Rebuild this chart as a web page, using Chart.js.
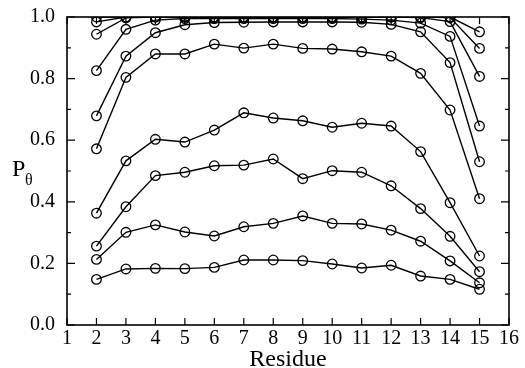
<!DOCTYPE html>
<html>
<head>
<meta charset="utf-8">
<script src="https://cdn.jsdelivr.net/npm/chart.js@4.4.1/dist/chart.umd.min.js"></script>
<style>
  html, body { margin: 0; padding: 0; background: #fff; }
  #wrap { width: 525px; height: 368px; position: relative; }
</style>
</head>
<body>
<div id="wrap"><canvas id="chart"></canvas></div>
<script>
const residues = [2, 3, 4, 5, 6, 7, 8, 9, 10, 11, 12, 13, 14, 15];

const series1 = [0.148, 0.182, 0.184, 0.183, 0.187, 0.211, 0.211, 0.209, 0.198, 0.185, 0.194, 0.159, 0.148, 0.116];
const series2 = [0.213, 0.301, 0.325, 0.302, 0.289, 0.319, 0.330, 0.354, 0.330, 0.328, 0.308, 0.272, 0.208, 0.137];
const series3 = [0.256, 0.384, 0.485, 0.496, 0.517, 0.519, 0.539, 0.475, 0.501, 0.496, 0.452, 0.378, 0.288, 0.173];
const series4 = [0.363, 0.533, 0.603, 0.594, 0.633, 0.689, 0.672, 0.663, 0.642, 0.655, 0.646, 0.563, 0.397, 0.224];
const series5 = [0.572, 0.804, 0.880, 0.880, 0.912, 0.899, 0.912, 0.898, 0.896, 0.887, 0.873, 0.817, 0.698, 0.410];
const series6 = [0.679, 0.873, 0.949, 0.975, 0.982, 0.983, 0.984, 0.984, 0.984, 0.983, 0.976, 0.952, 0.852, 0.530];
const series7 = [0.826, 0.960, 0.990, 0.995, 0.995, 0.995, 0.995, 0.995, 0.995, 0.993, 0.990, 0.980, 0.937, 0.646];
const series8 = [0.944, 0.997, 1.000, 1.000, 1.000, 1.000, 1.000, 1.000, 1.000, 1.000, 1.000, 0.998, 0.985, 0.807];
const series9 = [0.984, 1.000, 1.000, 1.000, 1.000, 1.000, 1.000, 1.000, 1.000, 1.000, 1.000, 1.000, 0.998, 0.898];
const series10 = [1.000, 1.000, 1.000, 1.000, 1.000, 1.000, 1.000, 1.000, 1.000, 1.000, 1.000, 1.000, 1.000, 0.952];

const allSeries = [series1, series2, series3, series4, series5, series6, series7, series8, series9, series10];

const serif = '"Liberation Serif", "DejaVu Serif", serif';

// frame, inward ticks on all four sides, and the P_theta label
const framePlugin = {
  id: 'frame',
  afterDraw(chart) {
    const { ctx, chartArea: a, scales } = chart;
    ctx.save();
    ctx.strokeStyle = '#000';
    ctx.lineWidth = 1.6;
    ctx.strokeRect(a.left, a.top, a.right - a.left, a.bottom - a.top);

    ctx.lineWidth = 1.2;
    ctx.beginPath();
    for (let v = 1; v <= 16; v++) {
      const px = scales.x.getPixelForValue(v);
      ctx.moveTo(px, a.bottom); ctx.lineTo(px, a.bottom - 7);
      ctx.moveTo(px, a.top); ctx.lineTo(px, a.top + 7);
    }
    for (let i = 0; i <= 10; i++) {
      const py = scales.y.getPixelForValue(i / 10);
      const len = i % 2 === 0 ? 8 : 4;
      ctx.moveTo(a.left, py); ctx.lineTo(a.left + len, py);
      ctx.moveTo(a.right, py); ctx.lineTo(a.right - len, py);
    }
    ctx.stroke();

    ctx.fillStyle = '#000';
    ctx.textBaseline = 'alphabetic';
    ctx.font = '24px ' + serif;
    ctx.fillText('P', 12, 176);
    ctx.font = '16px ' + serif;
    ctx.fillText('\u03b8', 25, 185);
    ctx.restore();
  }
};

new Chart(document.getElementById('chart'), {
  type: 'line',
  data: {
    datasets: allSeries.map(s => ({
      data: residues.map((r, i) => ({ x: r, y: s[i] })),
      borderColor: '#000',
      borderWidth: 1.4,
      pointRadius: 4.8,
      pointBorderWidth: 1.3,
      pointBorderColor: '#000',
      pointBackgroundColor: 'rgba(0,0,0,0)',
      fill: false,
      tension: 0
    }))
  },
  options: {
    responsive: true,
    maintainAspectRatio: false,
    animation: false,
    layout: { padding: { top: 17, right: 16, left: 0, bottom: 0 } },
    plugins: { legend: { display: false }, tooltip: { enabled: false } },
    scales: {
      x: {
        type: 'linear',
        min: 1, max: 16,
        grid: { display: false },
        border: { display: false },
        ticks: {
          stepSize: 1,
          color: '#000',
          padding: -4,
          maxRotation: 0,
          autoSkip: false,
          font: { family: serif, size: 20, lineHeight: 1 },
          callback: v => String(v)
        },
        title: {
          display: true,
          text: 'Residue',
          color: '#000',
          padding: { top: 0, bottom: -4 },
          font: { family: serif, size: 24, lineHeight: 1 }
        },
        afterFit: s => { s.height = 43; }
      },
      y: {
        min: 0, max: 1,
        grid: { display: false },
        border: { display: false },
        ticks: {
          stepSize: 0.1,
          color: '#000',
          padding: 4,
          autoSkip: false,
          font: { family: serif, size: 20 },
          callback: (v, i) => (i % 2 === 0 ? v.toFixed(1) : '')
        },
        afterFit: s => { s.width = 67; }
      }
    }
  },
  plugins: [framePlugin]
});
</script>
</body>
</html>
